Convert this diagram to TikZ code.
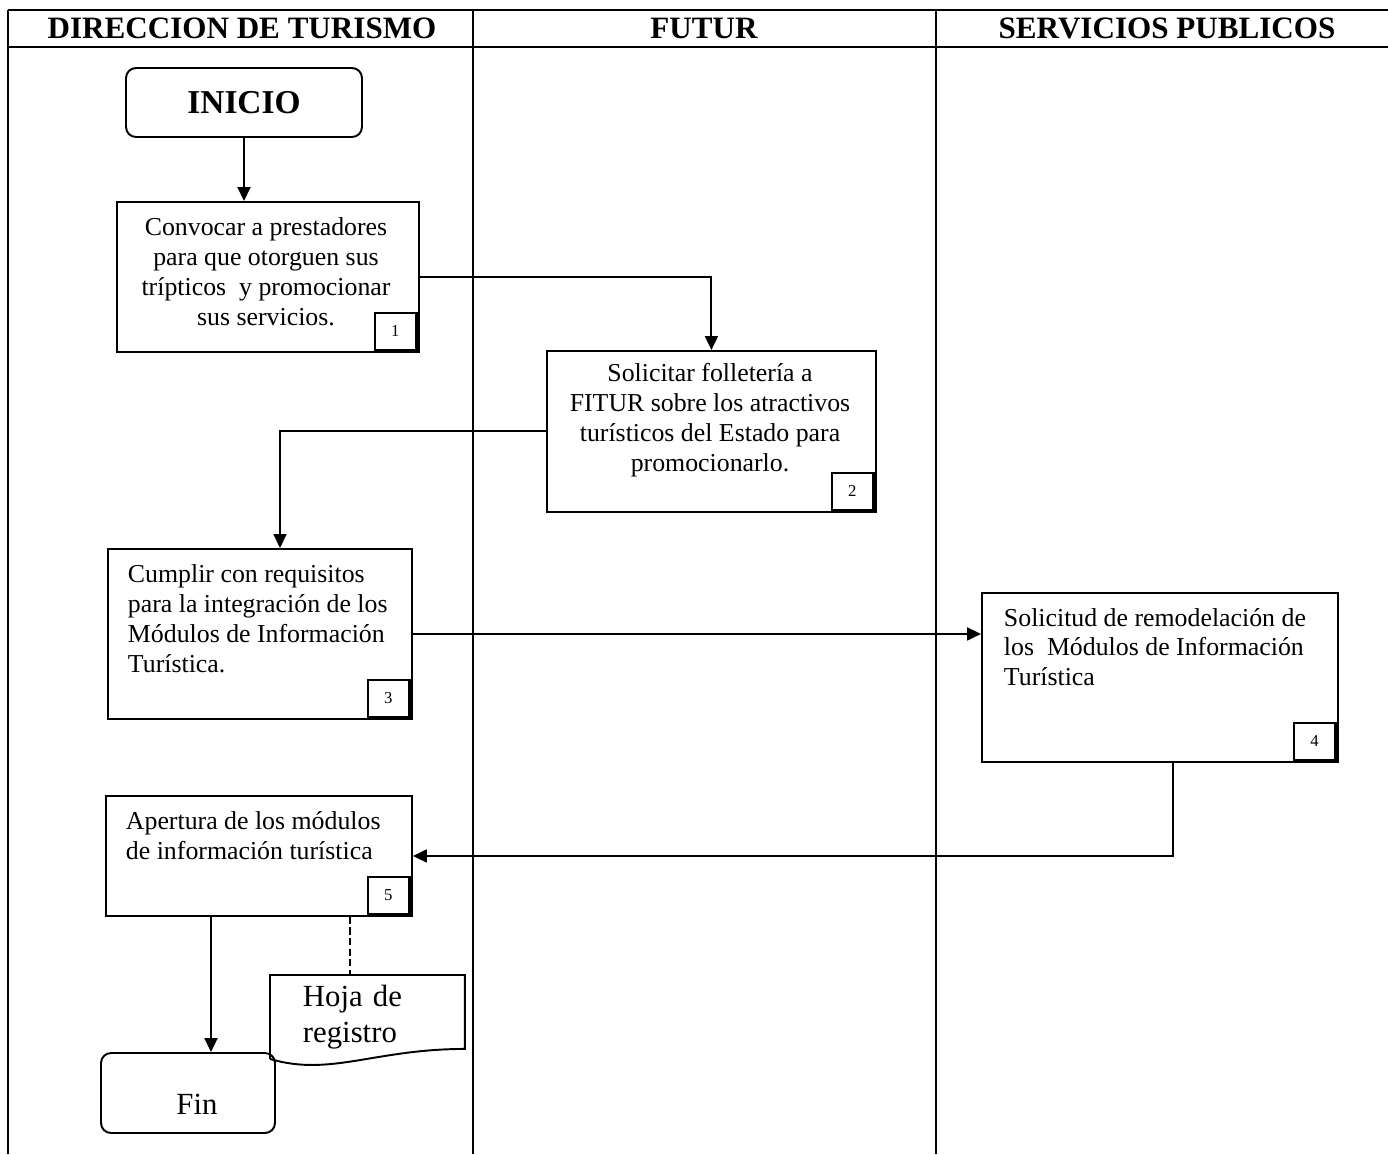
\documentclass[tikz,border=0pt]{standalone}
\usepackage{fontspec}
\setmainfont{Liberation Serif}
\usetikzlibrary{arrows.meta}

\begin{document}
\begin{tikzpicture}[x=0.02cm, y=-0.02cm, line width=1.1pt,
    lane/.style={font=\fontsize{17.7}{20}\selectfont\bfseries},
    term/.style={draw, rounded corners=0.2cm, inner sep=0pt},
    stepbox/.style={draw, inner sep=0pt, anchor=north west},
    steptext/.style={font=\fontsize{14.7}{17}\selectfont, inner sep=0pt},
    tag/.style={draw, inner sep=0pt, minimum width=0.82cm, minimum height=0.74cm,
      anchor=south east, xshift=-0.06cm, yshift=0.04cm, font=\fontsize{9.5}{11}\selectfont},
    flow/.style={-{Triangle[length=0.28cm, width=0.26cm]}},
    link/.style={dash pattern=on 4pt off 2pt, line width=1.6pt}]

  \useasboundingbox (0,0) rectangle (1388,1154);

  % lanes
  \draw (8,10) -- (1388,10);
  \draw (8,47) -- (1388,47);
  \draw (8,10) -- (8,1154);
  \draw (473,10) -- (473,1154);
  \draw (936,10) -- (936,1154);
  \node[lane] (dt) at (242,28) {DIRECCION DE TURISMO};
  \node[lane] (ft) at (704,28) {FUTUR};
  \node[lane] (sp) at (1167,28) {SERVICIOS PUBLICOS};

  % start
  \node[term, minimum width=4.72cm, minimum height=1.38cm,
    font=\fontsize{19}{21}\selectfont\bfseries] (inicio) at (244,102.5) {INICIO};

  % steps
  \node[stepbox, minimum width=6.04cm, minimum height=3cm] (s1) at (116,201) {};
  \node[steptext, align=center] (t1) at (266,272)
    {Convocar a prestadores\\para que otorguen sus\\trípticos\ \ y promocionar\\sus servicios.};
  \node[tag] (n1) at (s1.south east) {1};

  \node[stepbox, minimum width=6.58cm, minimum height=3.22cm] (s2) at (546,350) {};
  \node[steptext, align=center] (t2) at (710,420)
    {Solicitar folletería a\\FITUR sobre los atractivos\\turísticos del Estado para\\promocionarlo.};
  \node[tag] (n2) at (s2.south east) {2};

  \node[stepbox, minimum width=6.08cm, minimum height=3.4cm] (s3) at (107,548) {};
  \node[steptext, align=left, anchor=west] (t3) at (127,619)
    {Cumplir con requisitos\\para la integración de los\\Módulos de Información\\Turística.};
  \node[tag] (n3) at (s3.south east) {3};

  \node[stepbox, minimum width=7.12cm, minimum height=3.38cm] (s4) at (981,592) {};
  \node[steptext, align=left, anchor=west] (t4) at (1003,647)
    {Solicitud de remodelación de\\los\ \ Módulos de Información\\Turística};
  \node[tag] (n4) at (s4.south east) {4};

  \node[stepbox, minimum width=6.12cm, minimum height=2.4cm] (s5) at (105,795) {};
  \node[steptext, align=left, anchor=west] (t5) at (125,836)
    {Apertura de los módulos\\de información turística};
  \node[tag] (n5) at (s5.south east) {5};

  \foreach \i in {1,...,5}
    \draw[line width=2pt] (n\i.north east) |- (n\i.south west);

  % end
  \node[term, minimum width=3.48cm, minimum height=1.6cm] (fin) at (188,1093) {};
  \node[font=\fontsize{17.5}{20}\selectfont] (fintext) at (197,1104) {Fin};

  % record sheet
  \node[anchor=north west, inner xsep=0.64cm, inner ysep=0pt, text width=2.58cm,
    minimum height=1.64cm, align=left, font=\fontsize{17.5}{20.5}\selectfont]
    (doc) at (270,975) {Hoja de\\registro};
  \draw (doc.south west) -- (doc.north west) -- (doc.north east)
    -- ([yshift=0.2cm]doc.south east) .. controls +(-90,0) and +(60,18) .. (doc.south west);

  % connectors
  \coordinate (c3) at (280,0);
  \coordinate (c4) at (1173,0);
  \coordinate (c5) at (211,0);
  \coordinate (hook) at (350,975);

  \draw[flow] (inicio.south) -- (inicio.south |- s1.north);
  \draw[flow] (s1.east) -| (s2.north);
  \draw[flow] (s2.west) -| (c3 |- s3.north);
  \draw[flow] (s3.east) -- (s3.east -| s4.west);
  \draw[flow] (c4 |- s4.south) |- (s5.east);
  \draw[flow] (c5 |- s5.south) -- (c5 |- fin.north);
  \draw[link] (hook |- s5.south) -- (hook);
\end{tikzpicture}
\end{document}
